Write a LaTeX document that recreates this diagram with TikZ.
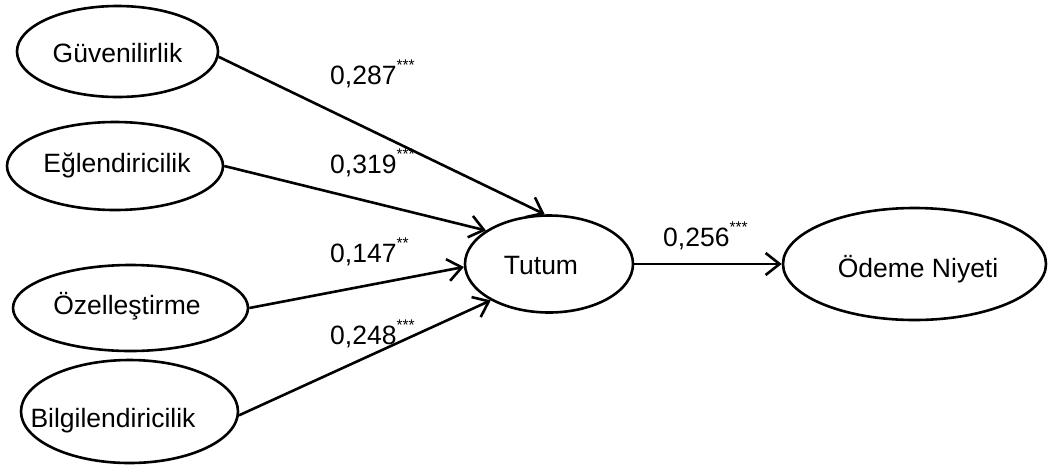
\documentclass[tikz,border=0pt]{standalone}
\usepackage{fontspec}
\setmainfont{Liberation Sans}
\usetikzlibrary{shapes.geometric,arrows.meta}
\newcommand\sig[1]{\raisebox{14pt}{\fontsize{15.5}{15.5}\selectfont #1}}
\begin{document}
\begin{tikzpicture}[x=1pt,y=-1pt,
  lat/.style={draw, ellipse, line width=2.6pt, inner sep=0pt},
  txt/.style={anchor=base, inner sep=0pt, font=\fontsize{26.5}{30}\selectfont},
  coef/.style={anchor=base west, inner sep=0pt, font=\fontsize{26.5}{30}\selectfont},
  link/.style={line width=2.6pt, -{Straight Barb[length=14pt,width=22pt]}}]
\useasboundingbox (0,0) rectangle (1048,469);

\node[lat, minimum width=201pt, minimum height=91pt] (g) at (117.5,51.5) {};
\node[txt] (gt) at (117.5,62) {Güvenilirlik};
\node[lat, minimum width=216pt, minimum height=88pt] (e) at (115,166) {};
\node[txt] (et) at (117,172) {Eğlendiricilik};
\node[lat, minimum width=235pt, minimum height=86pt] (z) at (130.5,308) {};
\node[txt] (zt) at (127,314) {Özelleştirme};
\node[lat, minimum width=217pt, minimum height=103pt] (b) at (129.5,411.5) {};
\node[txt] (bt) at (113,427) {Bilgilendiricilik};
\node[lat, minimum width=168pt, minimum height=97pt] (t) at (549,264) {};
\node[txt] (tt) at (541,274) {Tutum};
\node[lat, minimum width=263pt, minimum height=112pt] (o) at (914.5,264) {};
\node[txt] (ot) at (918,277) {Ödeme Niyeti};

\node[coef] (c1) at (330,84) {0,287\sig{***}};
\node[coef] (c2) at (330,173) {0,319\sig{***}};
\node[coef] (c3) at (330,262) {0,147\sig{**}};
\node[coef] (c4) at (330,344) {0,248\sig{***}};
\node[coef] (c5) at (663,246) {0,256\sig{***}};

\draw[link] (g.-3) -- (t.95);
\draw[link] (e.east) -- (t.152);
\draw[link] (z.east) -- (t.182);
\draw[link] (b.-2) -- (t.212);
\draw[link] (t.east) -- (o.west);
\end{tikzpicture}
\end{document}
